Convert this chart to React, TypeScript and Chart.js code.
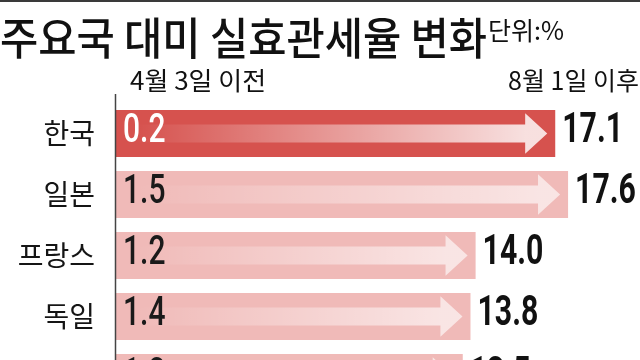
import React, { useEffect, useRef } from "react";
import { Chart, registerables } from "chart.js";

Chart.register(...registerables);

const TITLE = "주요국 대미 실효관세율 변화";
const UNIT = "단위:%";
const BEFORE_LABEL = "4월 3일 이전";
const AFTER_LABEL = "8월 1일 이후";
const countries = ["한국", "일본", "프랑스", "독일", "이탈리아"];
const beforeApril3 = [0.2, 1.5, 1.2, 1.4, 1.3];
const afterAug1 = [17.1, 17.6, 14.0, 13.8, 13.5];

const RED = "#d6524e";
const PINK = "#f0bab8";
const KR = "'Noto Sans CJK KR', 'Noto Sans', sans-serif";
const NUM = "Roboto, 'Liberation Sans', sans-serif";

function drawScaled(
  ctx: CanvasRenderingContext2D,
  text: string,
  x: number,
  y: number,
  sx: number,
  align: CanvasTextAlign
) {
  ctx.save();
  ctx.translate(x, y);
  ctx.scale(sx, 1);
  ctx.textAlign = align;
  ctx.fillText(text, 0, 0);
  ctx.restore();
}

const decor = {
  id: "decor",
  beforeDraw(chart: any) {
    const { ctx, width, height } = chart;
    ctx.save();
    ctx.fillStyle = "#ffffff";
    ctx.fillRect(0, 0, width, height);
    ctx.restore();
  },
  afterDatasetsDraw(chart: any) {
    const ctx: CanvasRenderingContext2D = chart.ctx;
    const meta = chart.getDatasetMeta(0);
    meta.data.forEach((bar: any, i: number) => {
      const { x, y, base, height } = bar.getProps(["x", "y", "base", "height"], true);
      const tip = x - height * 0.17;
      const headBase = x - height * 0.64;
      const shaftHalf = height * 0.19;
      const headHalf = height * 0.43;
      const g = ctx.createLinearGradient(base + 20, 0, headBase, 0);
      g.addColorStop(0, "rgba(255,255,255,0)");
      g.addColorStop(1, i === 0 ? "rgba(255,255,255,0.82)" : "rgba(255,255,255,0.62)");
      ctx.save();
      ctx.beginPath();
      ctx.moveTo(base, y - shaftHalf);
      ctx.lineTo(headBase, y - shaftHalf);
      ctx.lineTo(headBase, y - headHalf);
      ctx.lineTo(tip, y);
      ctx.lineTo(headBase, y + headHalf);
      ctx.lineTo(headBase, y + shaftHalf);
      ctx.lineTo(base, y + shaftHalf);
      ctx.closePath();
      ctx.fillStyle = g;
      ctx.fill();

      ctx.textBaseline = "middle";
      ctx.font = `500 40px ${NUM}`;
      ctx.fillStyle = i === 0 ? "#ffffff" : "#1a1a1a";
      drawScaled(ctx, beforeApril3[i].toFixed(1), base + 7, y - 2, 0.75, "left");

      ctx.font = `bold 42px ${NUM}`;
      ctx.fillStyle = "#111111";
      drawScaled(ctx, afterAug1[i].toFixed(1), x + 7, y - 2, 0.72, "left");
      ctx.restore();
    });
  },
  afterDraw(chart: any) {
    const ctx: CanvasRenderingContext2D = chart.ctx;
    const area = chart.chartArea;
    ctx.save();
    ctx.fillStyle = "#3a3a3a";
    ctx.fillRect(0, 0, chart.width, 2);
    ctx.strokeStyle = "#444444";
    ctx.lineWidth = 1.5;
    ctx.beginPath();
    ctx.moveTo(area.left - 0.5, 94);
    ctx.lineTo(area.left - 0.5, area.bottom);
    ctx.stroke();
    ctx.fillStyle = "#111111";
    ctx.textBaseline = "alphabetic";
    ctx.font = `500 44px ${KR}`;
    drawScaled(ctx, TITLE, 0, 55, 0.945, "left");
    ctx.font = `25px ${KR}`;
    drawScaled(ctx, UNIT, 488, 40, 1, "left");
    ctx.font = `25px ${KR}`;
    drawScaled(ctx, BEFORE_LABEL, 130, 90, 1.04, "left");
    drawScaled(ctx, AFTER_LABEL, 639, 90, 1.0, "right");
    ctx.restore();
  },
};

export default function App() {
  const ref = useRef<HTMLCanvasElement | null>(null);
  useEffect(() => {
    if (!ref.current) return;
    const chart = new Chart(ref.current, {
      type: "bar",
      data: {
        labels: countries,
        datasets: [
          {
            data: afterAug1,
            backgroundColor: countries.map((_, i) => (i === 0 ? RED : PINK)),
            borderWidth: 0,
            barPercentage: 0.77,
            categoryPercentage: 1,
          },
        ],
      },
      options: {
        indexAxis: "y",
        responsive: false,
        animation: false,
        events: [],
        layout: { padding: { top: 103, right: 0, bottom: 0, left: 0 } },
        plugins: {
          legend: { display: false },
          tooltip: { enabled: false },
          title: { display: false },
        },
        scales: {
          x: { display: false, min: 0, max: 20.4 },
          y: {
            grid: { display: false },
            border: { display: false },
            ticks: {
              color: "#151515",
              padding: 13,
              font: { family: KR, size: 28, weight: "normal" },
            },
            afterFit: (scale: any) => {
              scale.width = 116;
              scale.paddingTop = 0;
              scale.paddingBottom = 0;
            },
          },
        },
      },
      plugins: [decor],
    } as any);
    return () => chart.destroy();
  }, []);

  return (
    <div
      style={{
        position: "fixed",
        left: 0,
        top: 0,
        width: 640,
        height: 360,
        overflow: "hidden",
        background: "#ffffff",
      }}
    >
      <canvas ref={ref} width={640} height={408} style={{ display: "block" }} />
    </div>
  );
}
